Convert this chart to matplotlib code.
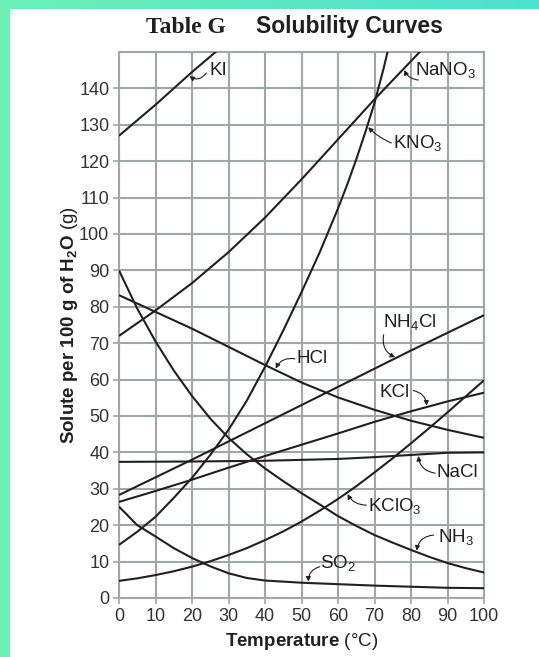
import numpy as np
import matplotlib.pyplot as plt
from matplotlib.patches import Rectangle

plt.rcParams['font.family'] = ['Liberation Sans', 'DejaVu Sans']
plt.rcParams['mathtext.fontset'] = 'custom'
plt.rcParams['mathtext.rm'] = 'Liberation Sans'
plt.rcParams['mathtext.it'] = 'Liberation Sans:italic'
plt.rcParams['mathtext.bf'] = 'Liberation Sans:bold'

# solubility readings, g solute per 100 g water
ki_t = [0, 10, 20, 30]
ki_s = [127, 135.5, 144.5, 153]

nano3_t = [0, 10, 20, 30, 40, 50, 60, 70, 80, 90]
nano3_s = [72, 79, 86.5, 95, 104.5, 115, 126, 137, 147.5, 158]

kno3_t = [0, 5, 10, 15, 20, 25, 30, 35, 40, 45, 50, 55, 60, 62.5, 65, 67.5, 70, 72.5, 75]
kno3_s = [14.6, 18.2, 22.3, 27.5, 33, 39.3, 46.2, 54.2, 63.5, 73.5, 84, 95, 107,
          113.5, 120.5, 128, 136, 145.5, 156]

nh3_t = [0, 5, 10, 15, 20, 25, 30, 35, 40, 45, 50, 55, 60, 65, 70, 75, 80, 85, 90, 95, 100]
nh3_s = [90, 79.5, 70.5, 62.5, 55.5, 49.3, 44, 39.5, 35.6, 32.1, 28.8, 25.7, 22.5,
         19.8, 17.3, 15.2, 13.2, 11.3, 9.6, 8.2, 7]

hcl_t = [0, 10, 20, 30, 40, 50, 60, 70, 80, 90, 100]
hcl_s = [83.2, 78.6, 74, 69, 64, 59.2, 55.1, 51.7, 48.7, 46.2, 44]

nh4cl_t = [0, 20, 40, 60, 80, 100]
nh4cl_s = [28.3, 38, 48, 58, 68, 77.7]

kcl_t = [0, 10, 20, 30, 40, 50, 60, 70, 80, 90, 100]
kcl_s = [26.4, 29.4, 32.5, 35.8, 39, 42.1, 45.2, 48.4, 51.3, 54, 56.4]

nacl_t = [0, 20, 40, 60, 70, 80, 90, 100]
nacl_s = [37.4, 37.5, 37.7, 38.2, 38.7, 39.3, 39.9, 40]

kclo3_t = [0, 5, 10, 15, 20, 25, 30, 35, 40, 45, 50, 55, 60, 65, 70, 75, 80, 85, 90, 95, 100]
kclo3_s = [4.7, 5.4, 6.3, 7.35, 8.6, 10.1, 11.8, 13.7, 15.9, 18.3, 21, 24, 27.2,
           30.7, 34.5, 38.4, 42.5, 46.7, 51, 55.4, 59.8]

so2_t = [0, 5, 10, 15, 20, 25, 30, 35, 40, 50, 60, 70, 80, 90, 100]
so2_s = [25.1, 20, 16.9, 13.7, 11, 8.7, 6.8, 5.5, 4.8, 4.2, 3.8, 3.4, 3.1, 2.8, 2.7]

curves = [
    (ki_t, ki_s), (nano3_t, nano3_s), (kno3_t, kno3_s), (nh3_t, nh3_s),
    (hcl_t, hcl_s), (nh4cl_t, nh4cl_s), (kcl_t, kcl_s), (nacl_t, nacl_s),
    (kclo3_t, kclo3_s), (so2_t, so2_s),
]

# label text, text pos, arrow tail, arrow head temperature, curve index, bend
labels = [
    ('KI', 24.9, 145, 23.9, 144.2, 19.0, 0, -0.5),
    ('NaNO$_3$', 81.0, 145, 82.0, 142.3, 78.0, 1, -0.3),
    ('KNO$_3$', 75.2, 124.9, 74.6, 125, 68.0, 2, -0.1),
    ('NH$_4$Cl', 72.3, 75.8, 72.5, 72.3, 76.0, 5, 0.4),
    ('HCl', 48.7, 65.7, 48.2, 65.7, 42.8, 4, 0.4),
    ('KCl', 71.5, 56.5, 80.6, 57.0, 84.3, 6, -0.4),
    ('NaCl', 87.0, 34.5, 86.6, 34.3, 82.0, 7, -0.4),
    ('KClO$_3$', 68.3, 25.3, 67.8, 25.5, 62.4, 8, -0.3),
    ('NH$_3$', 87.4, 16.8, 86.2, 17.3, 81.5, 3, 0.4),
    ('SO$_2$', 55.0, 9.6, 55.0, 8.6, 51.9, 9, 0.4),
]

W, H = 539, 657
fig = plt.figure(figsize=(W / 100, H / 100), dpi=100)

# coloured border strips
fig.patches.append(Rectangle((0, 0), 9 / W, 1, transform=fig.transFigure,
                             color='#6cf0b5', zorder=0))
band = fig.add_axes([0, 1 - 9 / H, 1, 9 / H])
grad = np.linspace(0, 1, 256)
c0 = np.array([0.42, 0.94, 0.71])
c1 = np.array([0.30, 0.88, 0.82])
band.imshow((c0[None, :] * (1 - grad[:, None]) + c1[None, :] * grad[:, None])[None, :, :],
            aspect='auto', extent=[0, 1, 0, 1])
band.axis('off')

ax = fig.add_axes([119 / W, 1 - 598 / H, (484 - 119) / W, (598 - 52) / H])
grid_col = '#9fa8a7'
ink = '#231f20'

for t, s in curves:
    ax.plot(t, s, color=ink, lw=1.5, zorder=3, solid_capstyle='butt')

ax.set_xlim(0, 100)
ax.set_ylim(0, 150)
ax.set_xticks(np.arange(0, 101, 10))
ax.set_yticks(np.arange(0, 141, 10))
ax.set_yticks([150], minor=True)
ax.grid(True, which='both', color=grid_col, lw=1.5, zorder=1)
for sp in ax.spines.values():
    sp.set_color(grid_col)
    sp.set_linewidth(1.5)
ax.tick_params(axis='both', which='major', color=grid_col, width=1.2, length=4,
               labelsize=13, labelcolor='#333333', pad=3)
ax.tick_params(axis='y', which='minor', length=0)

for text, tx, ty, ax0, ay0, ht, ci, rad in labels:
    t, s = curves[ci]
    ax.text(tx, ty, text, fontsize=13.5, color=ink, ha='left', va='center', zorder=4)
    ax.annotate('', xy=(ht, np.interp(ht, t, s)), xytext=(ax0, ay0),
                arrowprops=dict(arrowstyle='-|>', lw=0.8, color=ink, mutation_scale=7,
                                shrinkA=0, shrinkB=1,
                                connectionstyle=f'arc3,rad={rad}'),
                zorder=4)

fig.text(146 / W, 1 - 33 / H, 'Table G', family='Liberation Serif', weight='bold',
         fontsize=17, color=ink, ha='left', va='baseline')
fig.text(256 / W, 1 - 33 / H, 'Solubility Curves', weight='bold',
         fontsize=16.5, color=ink, ha='left', va='baseline')

fig.text(302 / W, 1 - 641 / H, r'$\mathbf{Temperature}$ (°C)', fontsize=13.5,
         color=ink, ha='center', va='center')
fig.text(69 / W, 1 - 325 / H, r'$\mathbf{Solute\ per\ 100\ g\ of\ H_2O}$ (g)',
         fontsize=13.5, color=ink, ha='center', va='center', rotation=90)

fig.savefig('out.png', dpi=100)
